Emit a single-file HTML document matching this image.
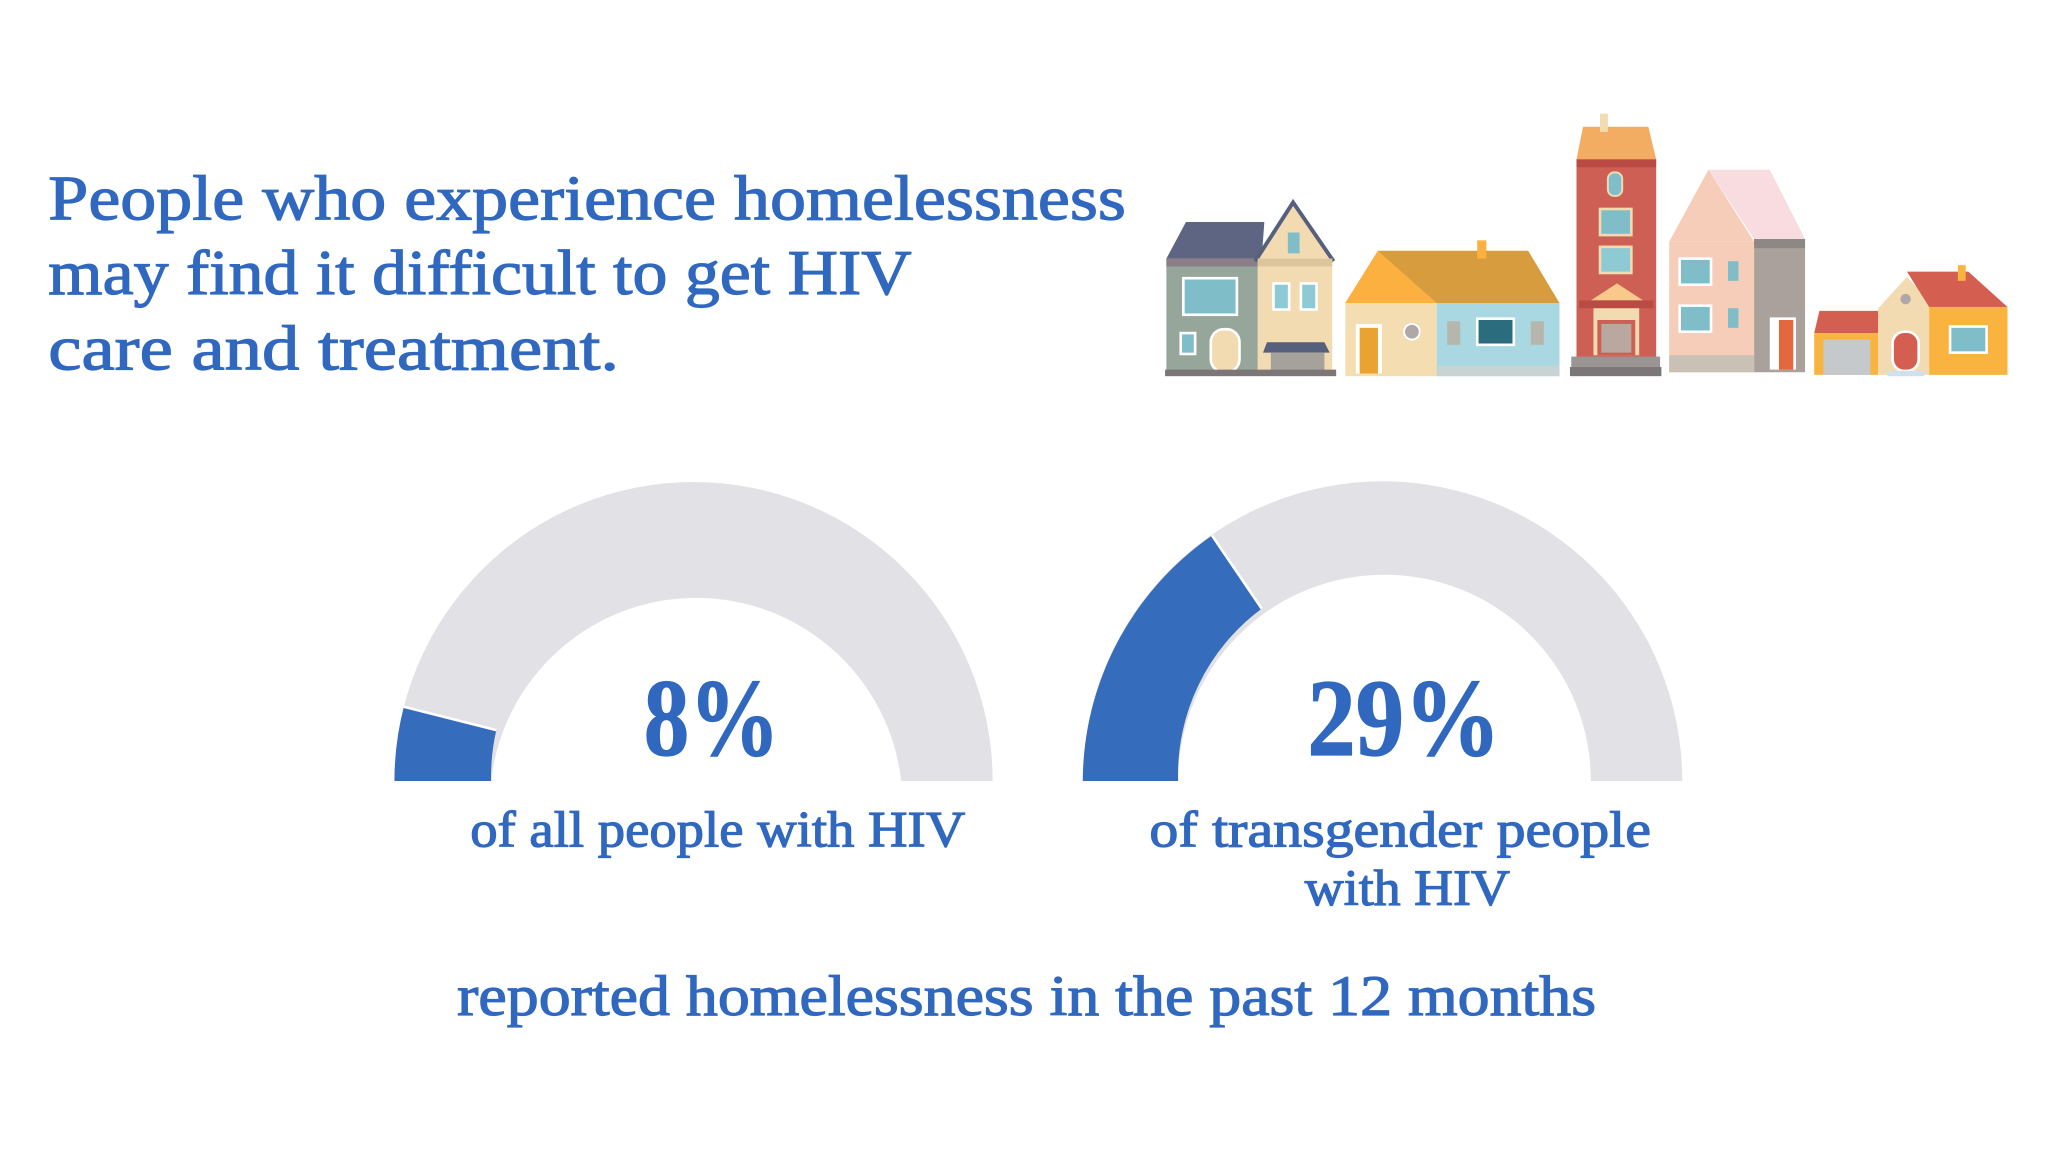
<!DOCTYPE html>
<html><head><meta charset="utf-8"><style>
html,body{margin:0;padding:0;background:#fff;}
svg{display:block;}
text{font-family:"Liberation Serif",serif;fill:#3068c0;stroke:#3068c0;stroke-width:0.9px;}
</style></head><body>
<svg width="2048" height="1152" viewBox="0 0 1568 882" xmlns="http://www.w3.org/2000/svg">
<rect width="1568" height="882" fill="#fff"/>
<text x="37" y="168" font-size="49" textLength="825" lengthAdjust="spacingAndGlyphs">People who experience homelessness</text>
<text x="37" y="225" font-size="49" textLength="661" lengthAdjust="spacingAndGlyphs">may find it difficult to get HIV</text>
<text x="37" y="283" font-size="49" textLength="437" lengthAdjust="spacingAndGlyphs">care and treatment.</text>

<path d="M302 598 A229 229 0 0 1 760 598 L690 598 A158 158 0 0 0 376 598 Z" fill="#e2e1e6"/>
<path d="M302 598 A229 229 0 0 1 309.2 541.1 L380 559 A158 158 0 0 0 376 598 Z" fill="#356cbb"/>
<line x1="309.2" y1="541.1" x2="380" y2="559" stroke="#fff" stroke-width="2"/>
<path d="M829 598 A229.5 229.5 0 0 1 1288 598 L1218 598 A158 158 0 0 0 902 598 Z" fill="#e2e1e6"/>
<path d="M829 598 A229.5 229.5 0 0 1 928 410 L966 466 A158 158 0 0 0 902 598 Z" fill="#356cbb"/>
<line x1="928" y1="410" x2="966" y2="466" stroke="#fff" stroke-width="2"/>

<text x="545" y="578" font-size="84" font-weight="bold" text-anchor="middle" textLength="104" lengthAdjust="spacingAndGlyphs">8%</text>
<text x="1075" y="578" font-size="84" font-weight="bold" text-anchor="middle" textLength="148" lengthAdjust="spacingAndGlyphs">29%</text>

<text x="360" y="648" font-size="39" textLength="379" lengthAdjust="spacingAndGlyphs">of all people with HIV</text>
<text x="880" y="648" font-size="39" textLength="384" lengthAdjust="spacingAndGlyphs">of transgender people</text>
<text x="999" y="693" font-size="39" textLength="157" lengthAdjust="spacingAndGlyphs">with HIV</text>
<text x="350" y="777" font-size="44" textLength="872" lengthAdjust="spacingAndGlyphs">reported homelessness in the past 12 months</text>

<g>
<polygon points="893,198 908,170 968,170 966,198" fill="#5d6582"/>
<rect x="893" y="198" width="70" height="87" fill="#97a69a"/>
<rect x="893" y="198" width="70" height="6" fill="#8a7f86"/>
<polygon points="963,198 990,155 1020,198" fill="#f2dbb1"/>
<polyline points="961,200 990,155 1021,200" fill="none" stroke="#565f7c" stroke-width="3"/>
<rect x="963" y="198" width="57" height="87" fill="#f2dbb1"/>
<rect x="963" y="198" width="57" height="6" fill="#dcc49c"/>
<rect x="986" y="178" width="9" height="16" fill="#7fbdc8"/>
<rect x="905" y="212" width="43" height="30" fill="#fff"/>
<rect x="907" y="214" width="39" height="26" fill="#7fbdc8"/>
<rect x="975" y="217" width="12" height="20" fill="#8ecad3" stroke="#fff" stroke-width="2"/>
<rect x="996" y="217" width="12" height="20" fill="#8ecad3" stroke="#fff" stroke-width="2"/>
<rect x="904" y="255" width="11" height="16" fill="#7fbdc8" stroke="#fff" stroke-width="2"/>
<rect x="927" y="252" width="22" height="33" rx="10" fill="#f2dbb1" stroke="#fff" stroke-width="2"/>
<polygon points="970,262 1014,262 1018,270 967,270" fill="#565f7c"/>
<rect x="973" y="270" width="41" height="15" fill="#a5a19b"/>
<rect x="892" y="283" width="131" height="5" fill="#7c7678"/>
<polygon points="1030,232 1055,192 1170,192 1194,232" fill="#d69c3d"/>
<polygon points="1030,232 1055,192 1100,232" fill="#fbb040"/>
<rect x="1131" y="184" width="7" height="14" fill="#fbb040"/>
<rect x="1030" y="232" width="70" height="56" fill="#f4ddb1"/>
<rect x="1100" y="232" width="94" height="56" fill="#a9d8e2"/>
<rect x="1100" y="280" width="94" height="8" fill="#c8d3d3"/>
<rect x="1038" y="248" width="20" height="38" fill="#fff"/>
<rect x="1041" y="251" width="14" height="35" fill="#eaa331"/>
<circle cx="1081" cy="254" r="6" fill="#b0a8a8" stroke="#fff" stroke-width="1.5"/>
<rect x="1130" y="243" width="30" height="22" fill="#fff"/>
<rect x="1132" y="245" width="26" height="18" fill="#2b6c7e"/>
<rect x="1108" y="246" width="10" height="18" fill="#b7b6ad"/>
<rect x="1172" y="246" width="10" height="18" fill="#b7b6ad"/>
<polygon points="1207,122 1212,97 1262,97 1268,122" fill="#f3ad62"/>
<rect x="1225" y="87" width="6" height="14" fill="#f2dbb1"/>
<rect x="1207" y="122" width="61" height="153" fill="#cd5f55"/>
<rect x="1207" y="122" width="61" height="6" fill="#b94b44"/>
<rect x="1231" y="132" width="11" height="18" rx="5" fill="#7fbdc8" stroke="#f2dbb1" stroke-width="1.5"/>
<rect x="1225" y="160" width="24" height="20" fill="#7fbdc8" stroke="#f2dbb1" stroke-width="2"/>
<rect x="1225" y="189" width="24" height="20" fill="#8ecad3" stroke="#f2dbb1" stroke-width="2"/>
<polygon points="1218,230 1238,217 1258,230" fill="#f8c98a"/>
<rect x="1209" y="230" width="57" height="6" fill="#b94b44"/>
<rect x="1220" y="236" width="35" height="36" fill="#f2dbb1"/>
<rect x="1223" y="245" width="29" height="27" fill="#cd5f55"/>
<rect x="1226" y="248" width="23" height="22" fill="#b8a8a0"/>
<rect x="1203" y="273" width="68" height="8" fill="#9a9592"/>
<rect x="1202" y="281" width="70" height="7" fill="#7c7678"/>
<polygon points="1343,183 1382,183 1355,130 1308,130" fill="#f8dcdf"/>
<polygon points="1278,185 1308,130 1343,185" fill="#f5cdb9"/>
<rect x="1278" y="185" width="65" height="100" fill="#f5cdb9"/>
<rect x="1343" y="183" width="39" height="102" fill="#aaa19d"/>
<rect x="1343" y="183" width="39" height="7" fill="#8e8885"/>
<rect x="1286" y="198" width="24" height="20" fill="#7fbdc8" stroke="#fff" stroke-width="2"/>
<rect x="1286" y="234" width="24" height="20" fill="#7fbdc8" stroke="#fff" stroke-width="2"/>
<rect x="1323" y="200" width="8" height="15" fill="#7fbdc8"/>
<rect x="1323" y="236" width="8" height="15" fill="#7fbdc8"/>
<rect x="1355" y="243" width="20" height="40" fill="#fff"/>
<rect x="1362" y="245" width="11" height="38" fill="#e4683f"/>
<rect x="1278" y="272" width="65" height="13" fill="#c9c1b4"/>
<polygon points="1389,255 1393,238 1438,238 1438,255" fill="#d45f50"/>
<rect x="1389" y="255" width="49" height="32" fill="#f8b43e"/>
<rect x="1396" y="260" width="36" height="27" fill="#c5c9cc"/>
<polygon points="1438,236 1460,212 1477,230 1477,287 1438,287" fill="#f2dbb1"/>
<polygon points="1460,208 1507,208 1537,235 1477,235" fill="#d45f50"/>
<rect x="1499" y="203" width="6" height="12" fill="#f8b43e"/>
<rect x="1477" y="235" width="60" height="52" fill="#f8b43e"/>
<rect x="1492" y="249" width="30" height="22" fill="#fff"/>
<rect x="1494" y="251" width="26" height="18" fill="#7fbdc8"/>
<circle cx="1459" cy="229" r="4" fill="#b0a8a8"/>
<rect x="1449" y="254" width="20" height="30" rx="9" fill="#d45f50" stroke="#fff" stroke-width="2"/>
<rect x="1445" y="284" width="28" height="4" fill="#cfe0ef"/>
</g>
</svg>
</body></html>
